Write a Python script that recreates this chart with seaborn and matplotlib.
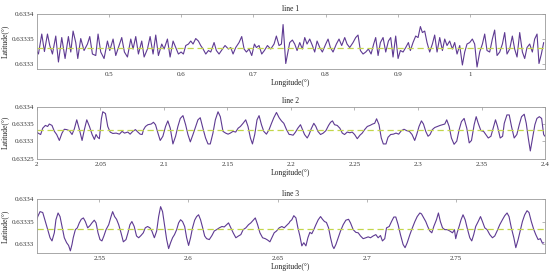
import matplotlib
matplotlib.use("Agg")
import matplotlib.pyplot as plt
import matplotlib.ticker as mticker
import seaborn as sns

# latitude values are given as offsets from LAT_BASE in micro-degrees
LAT_BASE = 0.6333
MEAN_LAT = [0.633333, 0.633333, 0.633333]

lon1 = [0.3985, 0.4022, 0.4068, 0.4105, 0.4147, 0.4179, 0.4216, 0.4262, 0.4299, 0.4345,
        0.4391, 0.4437, 0.4470, 0.4502, 0.4539, 0.4567, 0.4608, 0.4654, 0.4701, 0.4733,
        0.4770, 0.4816, 0.4848, 0.4885, 0.4931, 0.4978, 0.5010, 0.5056, 0.5093, 0.5139,
        0.5176, 0.5213, 0.5255, 0.5301, 0.5333, 0.5370, 0.5407, 0.5453, 0.5486, 0.5532,
        0.5569, 0.5610, 0.5647, 0.5684, 0.5730, 0.5763, 0.5809, 0.5846, 0.5887, 0.5924,
        0.5961, 0.5998, 0.6030, 0.6063, 0.6100, 0.6132, 0.6164, 0.6201, 0.6238, 0.6270,
        0.6303, 0.6340, 0.6377, 0.6409, 0.6455, 0.6487, 0.6524, 0.6571, 0.6607, 0.6654,
        0.6686, 0.6718, 0.6755, 0.6801, 0.6838, 0.6871, 0.6903, 0.6940, 0.6977, 0.7014,
        0.7041, 0.7078, 0.7115, 0.7152, 0.7194, 0.7240, 0.7286, 0.7318, 0.7355, 0.7388,
        0.7411, 0.7448, 0.7485,
        0.7503, 0.7540, 0.7572, 0.7605, 0.7642, 0.7678, 0.7711, 0.7743, 0.7780, 0.7817,
        0.7849, 0.7882, 0.7919, 0.7955, 0.8002, 0.8034, 0.8066, 0.8103, 0.8149, 0.8186,
        0.8223, 0.8265, 0.8297, 0.8334, 0.8380, 0.8417, 0.8449, 0.8482, 0.8519, 0.8556,
        0.8593, 0.8630, 0.8666, 0.8694, 0.8727, 0.8759, 0.8796, 0.8833, 0.8870, 0.8902,
        0.8934, 0.8971, 0.9004, 0.9036, 0.9073, 0.9110, 0.9147, 0.9174, 0.9211, 0.9248,
        0.9281, 0.9313, 0.9341, 0.9373, 0.9405, 0.9442, 0.9479, 0.9511, 0.9544, 0.9581,
        0.9618, 0.9650, 0.9682, 0.9719, 0.9756, 0.9788, 0.9821, 0.9858, 0.9895, 0.9927,
        0.9959, 0.9996, 1.0033, 1.0065, 1.0098, 1.0135, 1.0172, 1.0204, 1.0236, 1.0273,
        1.0310, 1.0342, 1.0375, 1.0412, 1.0449, 1.0481, 1.0513, 1.0550, 1.0587, 1.0619,
        1.0652, 1.0689, 1.0726, 1.0758, 1.0790, 1.0827, 1.0864, 1.0896, 1.0929, 1.0956,
        1.0989, 1.1021]
lat1 = [29, 20, 60, 25, 60, 37, 20, 56, 4, 53,
        11, 55, 24, 66, 43, 11, 51, 27, 40, 55,
        20, 17, 60, 24, 11, 46, 27, 50, 17, 37,
        53, 24, 14, 50, 30, 55, 20, 46, 14, 30,
        55, 20, 58, 17, 40, 30, 50, 14, 46, 33,
        20, 24, 20, 37, 40, 46, 40, 51, 46, 37,
        30, 20, 27, 24, 43, 27, 20, 30, 37, 30,
        33, 20, 33, 43, 55, 30, 24, 30, 17, 40,
        33, 37, 20, 27, 37, 30, 40, 56, 37, 40,
        79, 1, 30,
        43, 48, 40, 27, 43, 30, 53, 40, 50, 37,
        24, 46, 33, 24, 40, 50, 33, 24, 40, 50,
        37, 53, 40, 33, 43, 53, 58, 27, 20, 24,
        30, 20, 40, 53, 17, 43, 53, 24, 46, 53,
        14, 56, 11, 27, 24, 33, 43, 27, 43, 56,
        53, 75, 63, 66, 43, 24, 40, 58, 24, 53,
        27, 50, 37, 46, 30, 43, 20, 37, -2, 24,
        40, 43, 50, 40, -6, 24, 40, 60, 27, 24,
        50, 68, 17, 24, 40, 63, 20, 30, 56, 30,
        14, 63, 24, 11, 33, 40, 24, 50, 60, 1,
        20, 43]

lon2 = [2.0000, 2.0014, 2.0030, 2.0046, 2.0067, 2.0085, 2.0098, 2.0119, 2.0138, 2.0156,
        2.0177, 2.0198, 2.0216, 2.0235, 2.0256, 2.0277, 2.0295, 2.0314, 2.0335, 2.0356,
        2.0374, 2.0393, 2.0414, 2.0435, 2.0453, 2.0466, 2.0479, 2.0492, 2.0508, 2.0519,
        2.0540, 2.0558, 2.0577, 2.0598, 2.0624, 2.0650, 2.0671, 2.0690, 2.0716, 2.0734,
        2.0755, 2.0776, 2.0795, 2.0813, 2.0829, 2.0840, 2.0855, 2.0874, 2.0900, 2.0918,
        2.0934, 2.0953, 2.0971, 2.0992, 2.1013, 2.1031, 2.1050, 2.1071, 2.1092, 2.1110,
        2.1129, 2.1150, 2.1171, 2.1189, 2.1208, 2.1229, 2.1250, 2.1268, 2.1286, 2.1307,
        2.1328, 2.1347, 2.1365, 2.1386, 2.1405, 2.1426, 2.1444, 2.1465, 2.1486, 2.1505,
        2.1523, 2.1544, 2.1565, 2.1584, 2.1602, 2.1623, 2.1644, 2.1662, 2.1681, 2.1697,
        2.1715, 2.1733, 2.1749, 2.1768, 2.1786, 2.1807, 2.1828, 2.1847, 2.1865, 2.1886,
        2.1907, 2.1925, 2.1944, 2.1965, 2.1986,
        2.1996, 2.2017, 2.2036, 2.2054, 2.2075, 2.2091, 2.2107, 2.2128, 2.2143, 2.2159,
        2.2180, 2.2196, 2.2212, 2.2233, 2.2254, 2.2275, 2.2296, 2.2312, 2.2327, 2.2343,
        2.2364, 2.2385, 2.2404, 2.2422, 2.2443, 2.2464, 2.2482, 2.2501, 2.2522, 2.2543,
        2.2561, 2.2580, 2.2601, 2.2622, 2.2643, 2.2659, 2.2674, 2.2693, 2.2711, 2.2727,
        2.2748, 2.2764, 2.2785, 2.2806, 2.2827, 2.2848, 2.2869, 2.2890, 2.2911, 2.2932,
        2.2953, 2.2974, 2.2990, 2.3008, 2.3027, 2.3043, 2.3061, 2.3079, 2.3095, 2.3113,
        2.3132, 2.3153, 2.3174, 2.3192, 2.3211, 2.3226, 2.3245, 2.3263, 2.3284, 2.3305,
        2.3324, 2.3342, 2.3363, 2.3384, 2.3403, 2.3421, 2.3442, 2.3458, 2.3474, 2.3495,
        2.3516, 2.3534, 2.3553, 2.3574, 2.3595, 2.3610, 2.3626, 2.3647, 2.3666, 2.3679,
        2.3700, 2.3718, 2.3736, 2.3757, 2.3778, 2.3797, 2.3815, 2.3836, 2.3852, 2.3868,
        2.3884, 2.3902, 2.3920, 2.3936, 2.3955, 2.3973, 2.3989, 2.3999]
lat2 = [27, 23, 20, 38, 46, 43, 50, 46, 29, 20,
        3, 24, 35, 34, 31, 20, 36, 62, 34, 3,
        34, 62, 43, 20, 6, 20, 12, 8, 65, 85,
        80, 43, 27, 23, 24, 21, 29, 24, 27, 21,
        29, 34, 27, 21, 20, 34, 43, 48, 50, 55,
        48, 24, 3, 15, 43, 59, 38, -7, 15, 43,
        66, 74, 48, 20, -1, 20, 43, 62, 68, 38,
        10, -7, -7, 24, 62, 85, 71, 29, 24, 21,
        24, 29, 27, 38, 43, 52, 62, 43, 10, -7,
        20, 62, 74, 48, 29, 21, 34, 52, 68, 83,
        68, 59, 52, 34, 20,
        20, 18, 27, 38, 48, 34, 20, 10, 20, 36,
        52, 43, 29, 20, 24, 31, 46, 55, 59, 48,
        46, 38, 24, 20, 27, 25, 27, 20, 8, 18,
        24, 34, 43, 46, 50, 52, 65, 48, 10, -7,
        -7, 12, 20, 21, 24, 21, 31, 35, 31, 29,
        20, 3, 20, 43, 59, 50, 29, 15, 20, 34,
        40, 43, 46, 48, 50, 62, 43, 10, -8, 1,
        34, 57, 66, 38, -4, 3, 48, 71, 52, 31,
        29, 20, 10, 15, 43, 62, 43, 10, 15, 52,
        76, 76, 43, 10, 20, 48, 71, 78, 52, 10,
        -27, 10, 48, 66, 71, 66, 20, 15]

lon3 = [2.5145, 2.5155, 2.5168, 2.5183, 2.5198, 2.5211, 2.5224, 2.5235, 2.5248, 2.5257,
        2.5269, 2.5280, 2.5291, 2.5304, 2.5317, 2.5328, 2.5338, 2.5347, 2.5354, 2.5366,
        2.5377, 2.5388, 2.5399, 2.5411, 2.5422, 2.5435, 2.5448, 2.5459, 2.5472, 2.5482,
        2.5493, 2.5504, 2.5515, 2.5526, 2.5538, 2.5553, 2.5566, 2.5575, 2.5586, 2.5597,
        2.5609, 2.5622, 2.5635, 2.5650, 2.5661, 2.5672, 2.5683, 2.5696, 2.5709, 2.5721,
        2.5734, 2.5747, 2.5758, 2.5771, 2.5784, 2.5795, 2.5809, 2.5822, 2.5833, 2.5844,
        2.5855, 2.5866, 2.5878, 2.5889, 2.5900, 2.5911, 2.5922, 2.5934, 2.5945, 2.5956,
        2.5967, 2.5979, 2.5990, 2.6001, 2.6012, 2.6023, 2.6035, 2.6046, 2.6057, 2.6068,
        2.6080, 2.6091, 2.6102, 2.6117, 2.6132, 2.6145, 2.6158, 2.6173, 2.6188, 2.6201,
        2.6214, 2.6225, 2.6238, 2.6251, 2.6266, 2.6281, 2.6294, 2.6307, 2.6322, 2.6337,
        2.6350, 2.6364, 2.6375, 2.6388, 2.6401, 2.6416, 2.6431, 2.6444, 2.6457, 2.6468,
        2.6481, 2.6494, 2.6509, 2.6524, 2.6537, 2.6550, 2.6565,
        2.6569, 2.6580, 2.6591, 2.6603, 2.6614, 2.6625, 2.6636, 2.6647, 2.6659, 2.6670,
        2.6681, 2.6692, 2.6703, 2.6715, 2.6728, 2.6741, 2.6752, 2.6763, 2.6774, 2.6786,
        2.6797, 2.6808, 2.6816, 2.6827, 2.6840, 2.6853, 2.6868, 2.6883, 2.6898, 2.6909,
        2.6924, 2.6939, 2.6952, 2.6965, 2.6980, 2.6995, 2.7008, 2.7021, 2.7036, 2.7051,
        2.7064, 2.7077, 2.7088, 2.7101, 2.7111, 2.7126, 2.7139, 2.7152, 2.7163, 2.7176,
        2.7189, 2.7204, 2.7215, 2.7227, 2.7242, 2.7256, 2.7270, 2.7283, 2.7298, 2.7307,
        2.7320, 2.7331, 2.7342, 2.7354, 2.7365, 2.7376, 2.7391, 2.7402, 2.7413, 2.7425,
        2.7438, 2.7451, 2.7466, 2.7481, 2.7492, 2.7499, 2.7507, 2.7518, 2.7529, 2.7540,
        2.7552, 2.7563, 2.7578, 2.7589, 2.7600, 2.7611, 2.7625, 2.7638, 2.7649, 2.7662,
        2.7675, 2.7690, 2.7705, 2.7718, 2.7731, 2.7746, 2.7761, 2.7774, 2.7787, 2.7798,
        2.7811, 2.7825, 2.7836, 2.7849, 2.7862, 2.7873, 2.7886, 2.7899, 2.7910, 2.7923,
        2.7937, 2.7948, 2.7961, 2.7974, 2.7985, 2.7993]
lat3 = [48, 61, 72, 70, 50, 32, 14, 7, 25, 54,
        69, 61, 39, 14, 3, -3, -15, -1, 14, 32,
        36, 47, 55, 58, 50, 36, 41, 47, 53, 47,
        25, 10, 7, 18, 32, 43, 61, 72, 61, 55,
        43, 25, 5, 10, 25, 43, 50, 39, 18, 14,
        19, 25, 36, 39, 36, 29, 14, 29, 61, 83,
        72, 43, 10, -10, 3, 14, 21, 32, 47, 54,
        50, 39, 14, -3, 14, 36, 53, 61, 65, 54,
        36, 18, 12, 10, 19, 29, 32, 36, 39, 38,
        43, 47, 36, 25, 14, 18, 21, 32, 36, 43,
        47, 53, 58, 43, 25, 14, 12, 9, 5, 14,
        25, 29, 36, 39, 36, 41, 47,
        50, 54, 63, 58, 36, 18, -4, 3, -4, 14,
        26, 23, 32, 43, 54, 61, 55, 50, 48, 36,
        14, -4, -10, -1, 14, 29, 43, 53, 55, 47,
        32, 26, 25, 18, 12, 14, 16, 14, 18, 21,
        14, 19, 7, 12, 36, 39, 50, 60, 60, 43,
        21, -1, -8, 3, 21, 36, 50, 61, 69, 67,
        58, 50, 39, 29, 25, 39, 54, 69, 50, 36,
        32, 32, 29, 25, 32, 12, 25, 39, 54, 65,
        54, 36, 14, 7, 21, 39, 50, 61, 50, 36,
        32, 21, 14, 18, 29, 43, 54, 63, 69, 61,
        36, 14, -8, 10, 32, 50, 65, 74, 70, 50,
        32, 21, 10, 12, 2, 3]

titles = ["line 1", "line 2", "line 3"]
xlims = [(0.4, 1.104), (2.0, 2.4), (2.515, 2.80)]
ylims = [(0.63329, 0.6334), (0.63325, 0.6334), (0.63328, 0.6334)]
xticks = [[0.5, 0.6, 0.7, 0.8, 0.9, 1.0],
          [2.0, 2.05, 2.1, 2.15, 2.2, 2.25, 2.3, 2.35, 2.4],
          [2.55, 2.6, 2.65, 2.7, 2.75]]
yticks = [[0.6333, 0.63335, 0.6334],
          [0.63325, 0.6333, 0.63335, 0.6334],
          [0.6333, 0.63335, 0.6334]]
ytick_labels = [["0.6333", "0.63335", "0.6334"],
                ["0.63325", "0.6333", "0.63335", "0.6334"],
                ["0.6333", "0.63335", "0.6334"]]

lons = [lon1, lon2, lon3]
lats = [lat1, lat2, lat3]

sns.set_theme(style="white")
plt.rcParams['font.family'] = ['Liberation Serif', 'DejaVu Serif']
plt.rcParams['axes.edgecolor'] = '#9a9a9a'
plt.rcParams['axes.linewidth'] = 0.6

line_color = '#5e3a92'
mean_color = '#c2d64a'
rects = [[0.067, 0.750, 0.924, 0.199],
         [0.067, 0.424, 0.924, 0.190],
         [0.067, 0.083, 0.924, 0.196]]

fig = plt.figure(figsize=(5.5, 2.76), dpi=100)
for i in range(3):
    ax = fig.add_axes(rects[i])
    lat = [LAT_BASE + v * 1e-6 for v in lats[i]]
    sns.lineplot(x=lons[i], y=lat, ax=ax, color=line_color, linewidth=0.8,
                 estimator=None, sort=False)
    ax.axhline(MEAN_LAT[i], color=mean_color, linestyle=(0, (5, 3)), linewidth=0.9)
    ax.set_xlim(*xlims[i])
    ax.set_ylim(*ylims[i])
    ax.set_xticks(xticks[i])
    ax.xaxis.set_major_formatter(mticker.FormatStrFormatter('%g'))
    ax.set_yticks(yticks[i])
    ax.set_yticklabels(ytick_labels[i])
    ax.tick_params(direction='in', length=2.5, width=0.5, color='#9a9a9a',
                   labelsize=5, pad=2, top=True, right=True,
                   labelcolor='#333333')
    ax.set_title(titles[i], fontsize=5.5, pad=2.5, color='#222222')
    ax.set_xlabel('Longitude(°)', fontsize=5.5, labelpad=1.5, color='#222222')
    ax.set_ylabel('Latitude(°)', fontsize=5.5, labelpad=2, color='#222222')
    for s in ax.spines.values():
        s.set_visible(True)

fig.savefig('out.png', dpi=100)
